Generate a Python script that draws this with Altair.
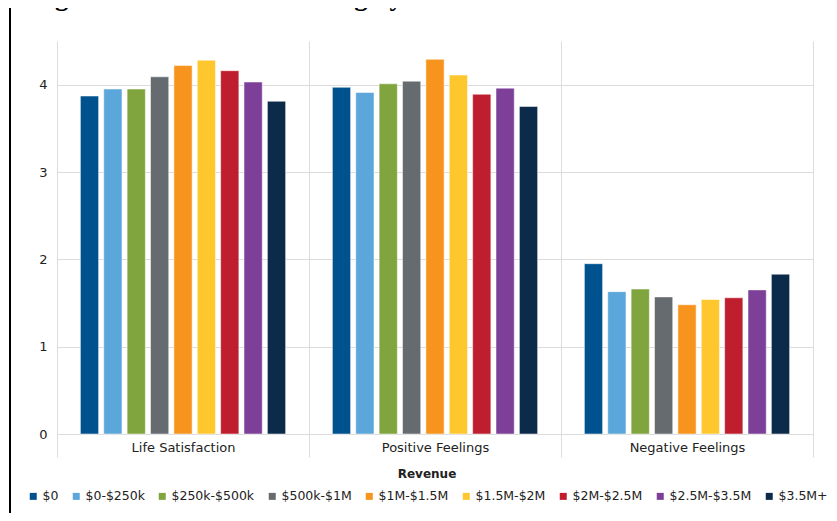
import altair as alt
import pandas as pd

categories = ["Life Satisfaction", "Positive Feelings", "Negative Feelings"]
revenue = ["$0", "$0-$250k", "$250k-$500k", "$500k-$1M", "$1M-$1.5M",
           "$1.5M-$2M", "$2M-$2.5M", "$2.5M-$3.5M", "$3.5M+"]
life_satisfaction = [3.87, 3.95, 3.95, 4.09, 4.22, 4.28, 4.16, 4.03, 3.81]
positive_feelings = [3.97, 3.91, 4.01, 4.04, 4.29, 4.11, 3.89, 3.96, 3.75]
negative_feelings = [1.95, 1.63, 1.66, 1.57, 1.48, 1.54, 1.56, 1.65, 1.83]
colors = ["#00528f", "#5ba6da", "#80a53f", "#666b70", "#f7941d",
          "#fec72e", "#bf1e2e", "#7d3f98", "#0c2a4a"]
title_text = "Figure 24: Advisor Wellbeing by Advisor Revenue"

rows = []
for cat, vals in zip(categories, [life_satisfaction, positive_feelings, negative_feelings]):
    for r, v in zip(revenue, vals):
        rows.append({"Measure": cat, "Revenue": r, "Score": v})
df = pd.DataFrame(rows)

FONT = "DejaVu Sans"
GRID = "#dcdcdc"

bars = alt.Chart(df).mark_bar(stroke="white", strokeWidth=0.5).encode(
    x=alt.X("Measure:N", sort=categories,
            scale=alt.Scale(paddingInner=0, paddingOuter=0),
            axis=alt.Axis(title=None, labelAngle=0, tickBand="extent", grid=True,
                          gridColor=GRID, tickColor=GRID, tickSize=23,
                          domainColor=GRID, labelPadding=-16, labelFont=FONT,
                          labelFontSize=13, labelColor="#222222")),
    xOffset=alt.XOffset("Revenue:N", sort=revenue,
                        scale=alt.Scale(paddingInner=0.22, paddingOuter=1)),
    y=alt.Y("Score:Q", scale=alt.Scale(domain=[0, 4.5], nice=False),
            axis=alt.Axis(title=None, values=[0, 1, 2, 3, 4], domain=False,
                          ticks=False, labelPadding=10, gridColor=GRID,
                          labelFont=FONT, labelFontSize=13, labelColor="#222222")),
    color=alt.Color("Revenue:N", sort=revenue,
                    scale=alt.Scale(domain=revenue, range=colors),
                    legend=alt.Legend(orient="none", legendX=-30, legendY=428,
                                      direction="horizontal", columns=9,
                                      title="Revenue", titleAnchor="middle",
                                      titleFont=FONT, titleFontSize=12,
                                      titleFontWeight="bold", titleColor="#222222",
                                      titlePadding=9,
                                      labelFont=FONT, labelFontSize=12.5,
                                      labelColor="#222222", labelOffset=3,
                                      symbolType="square", symbolSize=49,
                                      symbolStrokeWidth=0, columnPadding=11)),
)

border = alt.Chart(alt.Data(values=[{"a": 1}])).mark_rule(color="black", strokeWidth=2).encode(
    x=alt.value(-47), y=alt.value(-41), y2=alt.value(480)
)

title = alt.Chart(alt.Data(values=[{"t": title_text}])).mark_text(
    font="Liberation Serif", fontSize=27, fontWeight="bold", align="left",
    baseline="alphabetic", color="black"
).encode(x=alt.value(-26), y=alt.value(-36), text="t:N")

chart = alt.layer(bars, border, title).properties(
    width=756, height=393,
    padding={"left": 49, "top": 33, "right": 16, "bottom": 79},
    autosize=alt.AutoSizeParams(type="none"),
    background="white",
).configure_view(stroke=None)

chart.save("out.html", embed_options={"renderer": "svg", "actions": False})
